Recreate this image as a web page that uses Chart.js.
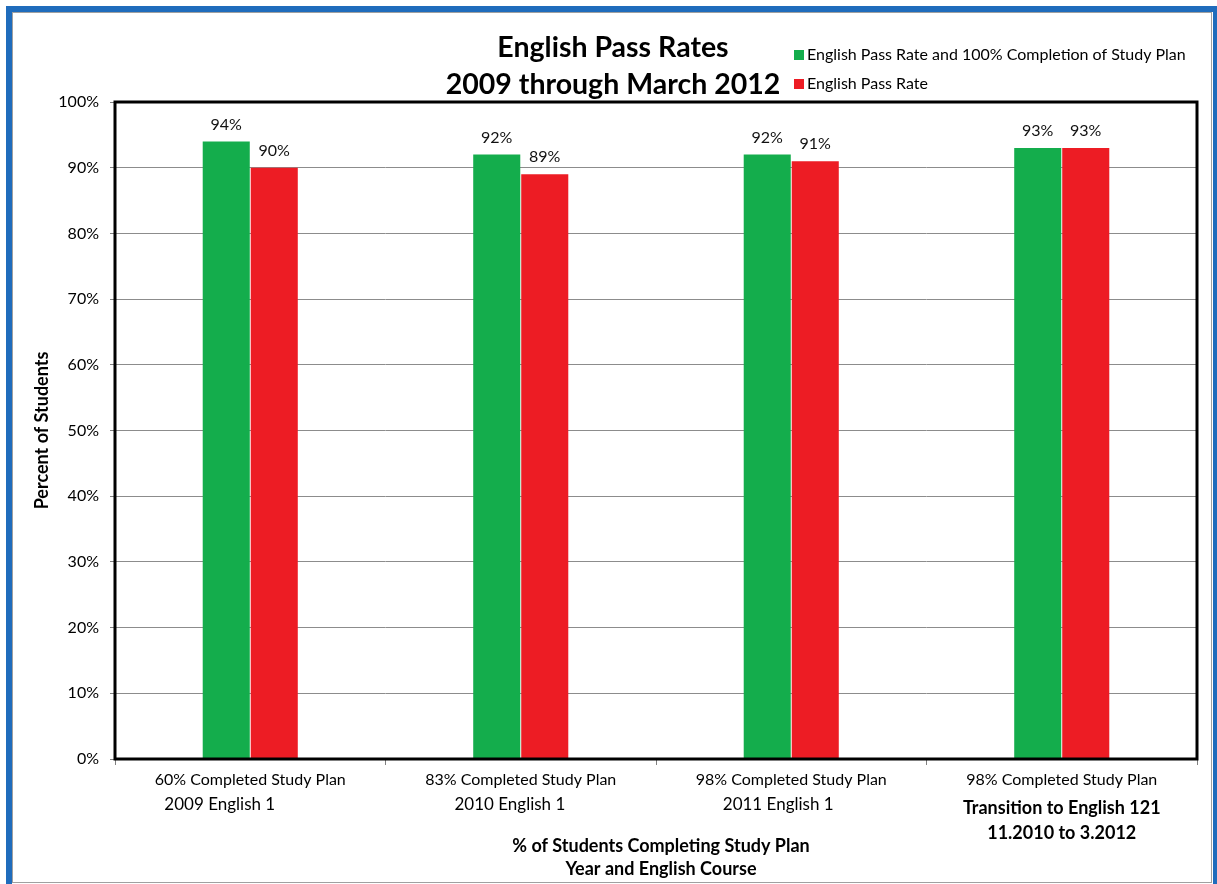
<!DOCTYPE html>
<html lang="en">
  <head>
    <meta charset="UTF-8" />
    <title>English Pass Rates</title>
    <script src="https://cdn.jsdelivr.net/npm/chart.js@4.4.1/dist/chart.umd.min.js"></script>
    <style>
      html, body { margin: 0; padding: 0; background: #fff; }
    </style>
  </head>
  <body>
    <canvas id="pass-chart" width="1217" height="884"></canvas>

    <script>
      // 차트 데이터
      const categories = [
        '60% Completed Study Plan',
        '83% Completed Study Plan',
        '98% Completed Study Plan',
        '98% Completed Study Plan',
      ];
      const courseLabels = [
        ['2009 English 1              '],
        ['2010 English 1     '],
        ['2011 English 1      '],
        ['Transition to English 121', '11.2010 to 3.2012'],
      ];
      const seriesNames = ['English Pass Rate and 100% Completion of Study Plan', 'English Pass Rate'];
      const fullPlanRates = [94, 92, 92, 93];
      const passRates = [90, 89, 91, 93];
      const titleLines = ['English Pass Rates', '2009 through March 2012'];
      const xTitleLines = ['% of Students Completing Study Plan', 'Year and English Course'];

      const FONT = 'Lato, "Open Sans", sans-serif';
      const highlightedCategory = 3; // 마지막 카테고리는 굵게

      // 바깥 파란 테두리
      const framePlugin = {
        id: 'frame',
        beforeDraw(chart) {
          const ctx = chart.ctx;
          ctx.save();
          ctx.fillStyle = '#fff';
          ctx.fillRect(0, 0, chart.width, chart.height);
          ctx.fillStyle = '#1f6cbc';
          ctx.fillRect(6, 6, 1211, 6);
          ctx.fillRect(6, 6, 6, 878);
          ctx.fillRect(1213, 6, 4, 878);
          ctx.strokeStyle = '#a0a0a0';
          ctx.lineWidth = 1;
          ctx.strokeRect(12.5, 12.5, 1199, 870);
          ctx.restore();
        },
      };

      // 제목, 범례, 라벨 그리기
      const textPlugin = {
        id: 'texts',
        afterDatasetsDraw(chart) {
          const ctx = chart.ctx;
          const area = chart.chartArea;
          ctx.save();

          // 플롯 테두리
          ctx.strokeStyle = '#000';
          ctx.lineWidth = 3;
          ctx.strokeRect(area.left, area.top, area.right - area.left, area.bottom - area.top);

          // 막대 위 값 표시
          ctx.fillStyle = '#111';
          ctx.font = '16px ' + FONT;
          ctx.textAlign = 'center';
          ctx.textBaseline = 'middle';
          chart.data.datasets.forEach((ds, di) => {
            chart.getDatasetMeta(di).data.forEach((bar, i) => {
              ctx.fillText(ds.data[i] + '%', bar.x, bar.y - 17);
            });
          });

          // 제목
          ctx.fillStyle = '#000';
          ctx.font = 'bold 28.5px ' + FONT;
          ctx.fillText(titleLines[0], 613, 48);
          ctx.fillText(titleLines[1], 613, 85);

          // 범례
          ctx.font = '16px ' + FONT;
          ctx.textAlign = 'left';
          chart.data.datasets.forEach((ds, di) => {
            const y = 55 + di * 29;
            ctx.fillStyle = ds.backgroundColor;
            ctx.fillRect(794, y - 5, 10, 10);
            ctx.fillStyle = '#000';
            ctx.fillText(ds.label, 807, y);
          });

          // X축 카테고리 라벨
          const xScale = chart.scales.x;
          ctx.textAlign = 'center';
          categories.forEach((cat, i) => {
            const x = xScale.getPixelForValue(i);
            ctx.font = '16px ' + FONT;
            ctx.fillText(cat, x, 780);
            const bold = i === highlightedCategory;
            ctx.font = (bold ? 'bold 18px ' : '17px ') + FONT;
            courseLabels[i].forEach((line, li) => {
              ctx.fillText(line, x, (bold ? 808 : 805) + li * 25);
            });
          });

          // X축 제목
          const cx = (area.left + area.right) / 2;
          ctx.font = 'bold 18px ' + FONT;
          ctx.fillText(xTitleLines[0], cx + 5, 846);
          ctx.fillText(xTitleLines[1], cx + 5, 869);

          ctx.restore();
        },
      };

      new Chart(document.getElementById('pass-chart'), {
        type: 'bar',
        data: {
          labels: categories,
          datasets: [
            {
              label: seriesNames[0],
              data: fullPlanRates,
              backgroundColor: '#14ad4c',
              categoryPercentage: 0.355,
              barPercentage: 0.98,
            },
            {
              label: seriesNames[1],
              data: passRates,
              backgroundColor: '#ed1c24',
              categoryPercentage: 0.355,
              barPercentage: 0.98,
            },
          ],
        },
        options: {
          responsive: false,
          animation: false,
          layout: { padding: { left: 0, top: 102, right: 20, bottom: 120 } },
          plugins: {
            legend: { display: false },
            title: { display: false },
            tooltip: { enabled: false },
          },
          scales: {
            x: {
              offset: true,
              grid: { drawOnChartArea: false, offset: true, tickLength: 6, color: '#808080' },
              border: { display: false },
              ticks: { display: false },
              afterFit(s) { s.height = 5; },
            },
            y: {
              min: 0,
              max: 100,
              ticks: {
                stepSize: 10,
                callback: (v) => v + '%',
                color: '#000',
                font: { size: 16, family: FONT },
                padding: 11,
              },
              grid: { color: '#8c8c8c', tickLength: 5, tickColor: '#808080' },
              border: { display: false },
              title: {
                display: true,
                text: 'Percent of Students',
                color: '#000',
                font: { size: 18, weight: 'bold', family: FONT },
                padding: { top: 31, bottom: 0 },
              },
              afterFit(s) { s.width = 115; },
            },
          },
        },
        plugins: [framePlugin, textPlugin],
      });
    </script>
  </body>
</html>
